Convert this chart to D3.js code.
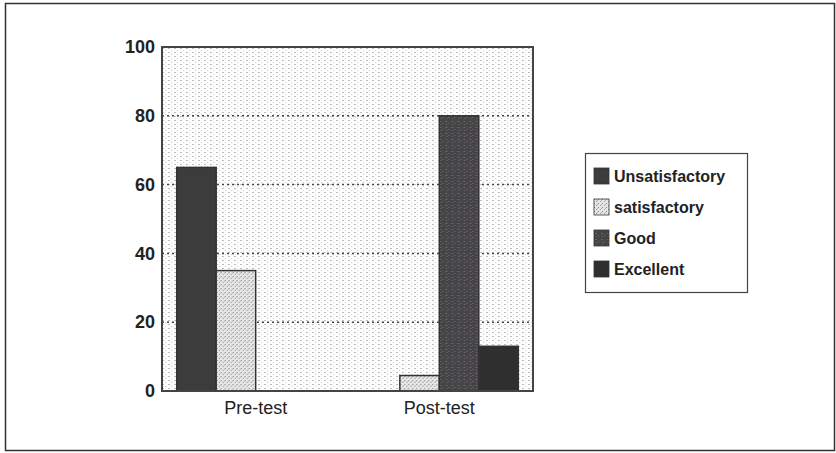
<!DOCTYPE html>
<html>
<head>
<meta charset="utf-8">
<script src="https://cdn.jsdelivr.net/npm/d3@7"></script>
<style>
  body { margin: 0; background: #fff; }
  text { font-family: "Liberation Sans", Arial, sans-serif; fill: #222; }
</style>
</head>
<body>
<div id="chart"></div>
<script>
// test groups and rating categories
const groups = ["Pre-test", "Post-test"];
const ratings = ["Unsatisfactory", "satisfactory", "Good", "Excellent"];
// percent of students per rating, one array per group
const preTest = [65, 35, 0, 0];
const postTest = [0, 4.5, 80, 13];
const yTicks = [0, 20, 40, 60, 80, 100];

const values = [preTest, postTest];

const W = 836, H = 453;
const plot = { left: 162, right: 533, top: 47, bottom: 391 };

const svg = d3.select("#chart").append("svg")
  .attr("width", W).attr("height", H);

// patterns for the scanned-print textures
const defs = svg.append("defs");

const bg = defs.append("pattern").attr("id", "bgDots")
  .attr("width", 6).attr("height", 4).attr("patternUnits", "userSpaceOnUse");
bg.append("rect").attr("width", 6).attr("height", 4).attr("fill", "#fdfdfd");
bg.append("rect").attr("x", 0).attr("y", 0).attr("width", 2).attr("height", 1).attr("fill", "#bdbdbd");
bg.append("rect").attr("x", 3).attr("y", 2).attr("width", 1).attr("height", 1).attr("fill", "#cfcfcf");

const sat = defs.append("pattern").attr("id", "satPat")
  .attr("width", 4).attr("height", 4).attr("patternUnits", "userSpaceOnUse");
sat.append("rect").attr("width", 4).attr("height", 4).attr("fill", "#e6e6e6");
sat.append("rect").attr("x", 0).attr("y", 0).attr("width", 1).attr("height", 1).attr("fill", "#8a8a8a");
sat.append("rect").attr("x", 2).attr("y", 2).attr("width", 1).attr("height", 1).attr("fill", "#9a9a9a");
sat.append("rect").attr("x", 3).attr("y", 1).attr("width", 1).attr("height", 1).attr("fill", "#b5b5b5");

const good = defs.append("pattern").attr("id", "goodPat")
  .attr("width", 6).attr("height", 6).attr("patternUnits", "userSpaceOnUse");
good.append("rect").attr("width", 6).attr("height", 6).attr("fill", "#454548");
good.append("rect").attr("x", 1).attr("y", 1).attr("width", 2).attr("height", 1).attr("fill", "#6e6278");
good.append("rect").attr("x", 4).attr("y", 3).attr("width", 1).attr("height", 1).attr("fill", "#5a7580");
good.append("rect").attr("x", 2).attr("y", 4).attr("width", 1).attr("height", 1).attr("fill", "#7a6270");

const color = d3.scaleOrdinal()
  .domain(ratings)
  .range(["#3c3c3c", "url(#satPat)", "url(#goodPat)", "#2f2f2f"]);

// outer frame
svg.append("rect")
  .attr("x", 5.5).attr("y", 3.5).attr("width", 829).attr("height", 447)
  .attr("fill", "none").attr("stroke", "#333").attr("stroke-width", 1.5);

const x0 = d3.scaleBand().domain(groups)
  .range([plot.left, plot.right]).paddingInner(0.14).paddingOuter(0.08);
const x1 = d3.scaleBand().domain(ratings).range([0, x0.bandwidth()]);
const y = d3.scaleLinear().domain([0, 100]).range([plot.bottom, plot.top]);

// plot background
svg.append("rect")
  .attr("x", plot.left).attr("y", plot.top)
  .attr("width", plot.right - plot.left).attr("height", plot.bottom - plot.top)
  .attr("fill", "url(#bgDots)");

// dotted gridlines
svg.append("g").selectAll("line")
  .data(yTicks.filter(d => d > 0 && d < 100))
  .join("line")
  .attr("x1", plot.left).attr("x2", plot.right)
  .attr("y1", d => y(d)).attr("y2", d => y(d))
  .attr("stroke", "#444").attr("stroke-width", 1.5)
  .attr("stroke-dasharray", "2,3");

// bars
const gGroups = svg.append("g").selectAll("g")
  .data(groups)
  .join("g")
  .attr("transform", d => `translate(${x0(d)},0)`);

gGroups.selectAll("rect")
  .data((g, i) => ratings.map((r, j) => ({ rating: r, value: values[i][j] })).filter(d => d.value > 0))
  .join("rect")
  .attr("x", d => x1(d.rating))
  .attr("width", x1.bandwidth())
  .attr("y", d => y(d.value))
  .attr("height", d => y(0) - y(d.value))
  .attr("fill", d => color(d.rating))
  .attr("stroke", "#333").attr("stroke-width", 1.5);

// plot frame
svg.append("rect")
  .attr("x", plot.left).attr("y", plot.top)
  .attr("width", plot.right - plot.left).attr("height", plot.bottom - plot.top)
  .attr("fill", "none").attr("stroke", "#444").attr("stroke-width", 2);

// y axis labels
const yAxis = svg.append("g")
  .attr("transform", `translate(${plot.left},0)`)
  .call(d3.axisLeft(y).tickValues(yTicks).tickSize(0).tickPadding(7));
yAxis.select(".domain").remove();
yAxis.selectAll("text")
  .style("font-size", "18px").style("font-weight", "bold")
  .attr("fill", "#222");

// x axis labels
const xAxis = svg.append("g")
  .attr("transform", `translate(0,${plot.bottom})`)
  .call(d3.axisBottom(x0).tickSize(0).tickPadding(10));
xAxis.select(".domain").remove();
xAxis.selectAll("text")
  .style("font-size", "18px")
  .attr("fill", "#222");

// legend
const legend = svg.append("g").attr("transform", "translate(585,153)");
legend.append("rect")
  .attr("x", 0.5).attr("y", 0.5).attr("width", 162).attr("height", 139)
  .attr("fill", "#fff").attr("stroke", "#444").attr("stroke-width", 1.2);
const items = legend.selectAll("g.item")
  .data(ratings)
  .join("g").attr("class", "item")
  .attr("transform", (d, i) => `translate(9,${23 + i * 31})`);
items.append("rect")
  .attr("x", 0).attr("y", -8).attr("width", 15).attr("height", 16)
  .attr("fill", d => color(d)).attr("stroke", "#333").attr("stroke-width", 0.8);
items.append("text")
  .attr("x", 20).attr("y", 0).attr("dy", "0.35em")
  .style("font-size", "16px").style("font-weight", "bold")
  .text(d => d);
</script>
</body>
</html>
